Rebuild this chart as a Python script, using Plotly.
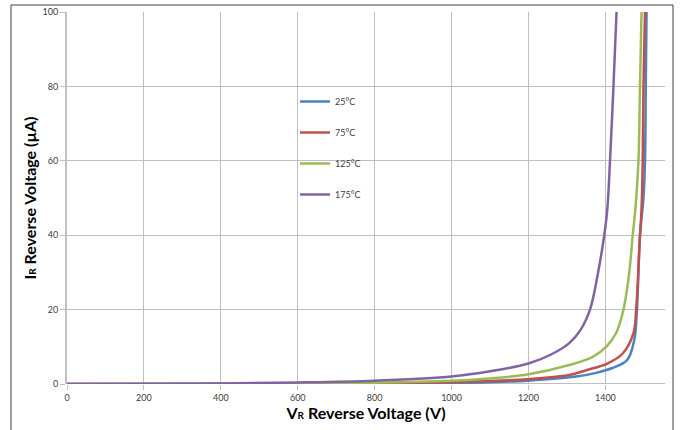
import plotly.graph_objects as go

# ---- data ----
v_25 = [0, 200, 400, 600, 800, 1000, 1100, 1200, 1324, 1376, 1418, 1457, 1475, 1482, 1490, 1499, 1503, 1505, 1507]
i_25 = [0, 0, 0.01, 0.05, 0.12, 0.3, 0.5, 0.9, 2.0, 3.0, 4.3, 6.5, 11.8, 20, 40, 50, 60, 80, 100]

v_75 = [0, 200, 400, 600, 800, 1000, 1100, 1200, 1306, 1350, 1405, 1445, 1473, 1480, 1490, 1494, 1497, 1499, 1503]
i_75 = [0, 0, 0.02, 0.08, 0.2, 0.5, 0.8, 1.3, 2.4, 3.7, 5.5, 8.2, 13.7, 20, 40, 47, 60, 80, 100]

v_125 = [0, 200, 400, 600, 800, 1000, 1100, 1200, 1306, 1367, 1402, 1428, 1447, 1462, 1471, 1478, 1486, 1490, 1494]
i_125 = [0, 0, 0.05, 0.15, 0.35, 0.9, 1.5, 2.6, 5.1, 7.3, 10, 13.7, 20, 30, 40, 47, 60, 80, 100]

v_175 = [0, 200, 400, 600, 800, 1000, 1100, 1200, 1260, 1306, 1335, 1360, 1381, 1397, 1405, 1412, 1421, 1429]
i_175 = [0, 0.05, 0.15, 0.4, 0.9, 2.0, 3.4, 5.5, 8.0, 11, 14.5, 20, 30, 40, 47, 60, 80, 100]

series_names = ["25\u00b0C", "75\u00b0C", "125\u00b0C", "175\u00b0C"]
series_v = [v_25, v_75, v_125, v_175]
series_i = [i_25, i_75, i_125, i_175]
colors = ["#4F81BD", "#C0504D", "#9BBB59", "#8064A2"]

x_ticks = [0, 200, 400, 600, 800, 1000, 1200, 1400]
y_ticks = [0, 20, 40, 60, 80, 100]

fig = go.Figure()
for k, (name, vv, ii, c) in enumerate(zip(series_names, series_v, series_i, colors)):
    fig.add_trace(go.Scatter(
        x=vv, y=ii, name=name, mode="lines",
        line=dict(color=c, width=2.5, shape="spline", smoothing=1.0),
        legendgroup=f"g{k}",
    ))

W, H = 681, 430
L, R, T, B = 67, 16, 12, 46
pw, ph = W - L - R, H - T - B

def px_x(p):
    return (p - L) / pw

def px_y(p):
    return (H - B - p) / ph

title_font = dict(size=16, color="black", family="Lato, Open Sans, sans-serif", weight="bold")
sub_r = "<span style='font-size:10px'>R</span>"

fig.update_layout(
    width=W, height=H,
    margin=dict(l=L, r=R, t=T, b=B, autoexpand=False),
    paper_bgcolor="white", plot_bgcolor="white",
    font=dict(family="Lato, Open Sans, sans-serif", size=9, color="#404040"),
    showlegend=True,
    legend=dict(
        x=px_x(295), y=px_y(87), xanchor="left", yanchor="top",
        bgcolor="rgba(0,0,0,0)", font=dict(size=9, color="#404040"),
        tracegroupgap=12, itemwidth=30,
    ),
    xaxis=dict(
        range=[0, 1555], tickvals=x_ticks, ticktext=[str(t) for t in x_ticks],
        showgrid=True, gridcolor="#BFBFBF", gridwidth=1,
        zeroline=False, showline=False, automargin=False,
        ticks="outside", ticklen=5, tickcolor="#BFBFBF",
        tickfont=dict(size=9, color="#404040"),
        title=dict(text="V" + sub_r + " Reverse Voltage (V)", font=title_font, standoff=6),
    ),
    yaxis=dict(
        range=[0, 100], tickvals=y_ticks, ticktext=[str(t) for t in y_ticks],
        showgrid=True, gridcolor="#BFBFBF", gridwidth=1,
        zeroline=False, showline=True, linecolor="#BFBFBF", linewidth=2,
        automargin=False,
        ticks="outside", ticklen=5, tickcolor="#BFBFBF",
        tickfont=dict(size=9, color="#404040"),
        title=dict(text="I" + sub_r + " Reverse Voltage (\u00b5A)", font=title_font, standoff=2),
    ),
    shapes=[
        dict(type="line", xref="paper", yref="y", x0=0, x1=1, y0=0, y1=0,
             line=dict(color="#BFBFBF", width=2), layer="below"),
        dict(type="rect", xref="paper", yref="paper",
             x0=px_x(11), x1=px_x(673), y0=px_y(432), y1=px_y(5),
             line=dict(color="#404040", width=1), fillcolor="rgba(0,0,0,0)"),
    ],
)

fig.write_html("out.html", config={"displayModeBar": False},
               post_script="document.body.style.margin='0';document.body.style.overflow='hidden';")
